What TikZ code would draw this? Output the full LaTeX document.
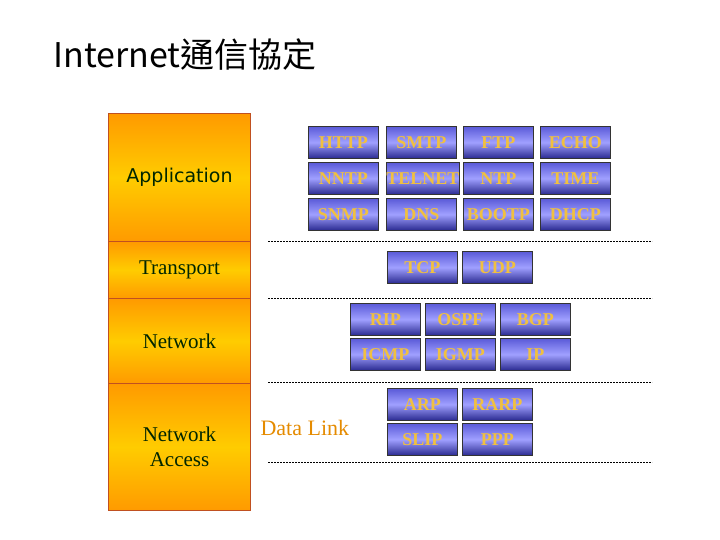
\documentclass[tikz,border=0pt]{standalone}
\usepackage{fontspec}
\setmainfont{Liberation Serif}
\newfontfamily\ttl{Noto Sans CJK TC}
\newfontfamily\appf{DejaVu Sans}
\definecolor{bxtop}{HTML}{5A5AD8}
\definecolor{bxmid}{HTML}{A0A0FF}
\definecolor{bxbot}{HTML}{2A2A90}
\definecolor{txy}{HTML}{F0C040}
\definecolor{org}{HTML}{FF9A00}
\definecolor{yel}{HTML}{FFCC00}
\definecolor{brd}{HTML}{C05020}
\begin{document}
\begin{tikzpicture}[x=1pt,y=-1pt,
 pb/.style={draw=black!80,line width=0.8pt,top color=bxtop,bottom color=bxbot,middle color=bxmid,minimum width=70pt,minimum height=32pt,inner sep=0pt,font=\fontsize{18}{18}\selectfont\bfseries,text=txy,anchor=north west},
 layer/.style={draw=brd,line width=1pt,top color=org,bottom color=org,middle color=yel,minimum width=142pt,inner sep=0pt,anchor=north west,align=center,text=black!85!green,font=\fontsize{21}{25}\selectfont},
 sep/.style={dash pattern=on 2pt off 1pt,line width=1pt}]
\useasboundingbox (0,0) rectangle (720,540);
\fill[white] (0,0) rectangle (720,540);
\node[anchor=west,font=\ttl\fontsize{34}{34}\selectfont] (title) at (50,55) {Internet通信協定};
\node[layer,minimum height=128pt,font=\appf\fontsize{19}{19}\selectfont] (app) at (108,113) {Application};
\node[layer,minimum height=57pt] (tr) at (108,241) {Transport};
\node[layer,minimum height=85pt] (net) at (108,298) {Network};
\node[layer,minimum height=127pt] (na) at (108,383) {Network\\Access};
\node[pb] (http) at (308,126) {HTTP};
\node[pb] (smtp) at (386,126) {SMTP};
\node[pb] (ftp) at (463,126) {FTP};
\node[pb] (echo) at (540,126) {ECHO};
\node[pb] (nntp) at (308,162) {NNTP};
\node[pb] (telnet) at (386,162) {TELNET};
\node[pb] (ntp) at (463,162) {NTP};
\node[pb] (time) at (540,162) {TIME};
\node[pb] (snmp) at (308,198) {SNMP};
\node[pb] (dns) at (386,198) {DNS};
\node[pb] (bootp) at (463,198) {BOOTP};
\node[pb] (dhcp) at (540,198) {DHCP};
\node[pb] (tcp) at (387,251) {TCP};
\node[pb] (udp) at (462,251) {UDP};
\node[pb] (rip) at (350,303) {RIP};
\node[pb] (ospf) at (425,303) {OSPF};
\node[pb] (bgp) at (500,303) {BGP};
\node[pb] (icmp) at (350,338) {ICMP};
\node[pb] (igmp) at (425,338) {IGMP};
\node[pb] (ip) at (500,338) {IP};
\node[pb] (arp) at (387,388) {ARP};
\node[pb] (rarp) at (462,388) {RARP};
\node[pb] (slip) at (387,423) {SLIP};
\node[pb] (ppp) at (462,423) {PPP};
\node[anchor=west,text=org!90!black,font=\fontsize{22}{22}\selectfont] (dl) at (257,428) {Data Link};
\draw[sep] (268,241) -- (652,241);
\draw[sep] (268,298) -- (652,298);
\draw[sep] (268,382) -- (652,382);
\draw[sep] (268,462) -- (652,462);
\end{tikzpicture}
\end{document}
